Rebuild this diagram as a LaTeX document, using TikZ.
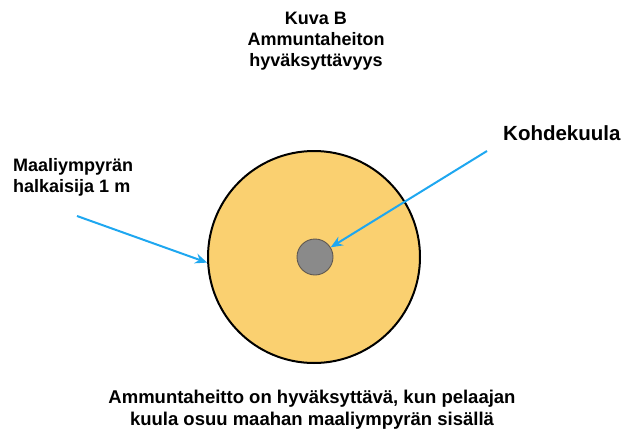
\documentclass[tikz,border=0pt]{standalone}
\usepackage{fontspec}
\setmainfont{Liberation Sans}
\usetikzlibrary{arrows.meta}
\definecolor{disc}{RGB}{250,208,112}
\definecolor{ball}{RGB}{138,138,138}
\definecolor{ballrim}{RGB}{95,88,80}
\definecolor{pointer}{RGB}{30,167,240}
\tikzset{
  lbl/.style={font=\bfseries\fontsize{18}{21}\selectfont, align=center, inner sep=0pt, anchor=base},
  ptr/.style={draw=pointer, line width=2pt, -{Stealth[length=12pt,width=10pt]}}
}
\begin{document}
\begin{tikzpicture}[x=1pt,y=-1pt]
\useasboundingbox (0,0) rectangle (627,434);
\node[draw=black, line width=2pt, fill=disc, circle, minimum size=212pt, inner sep=0pt] (target) at (314,257) {};
\node[draw=ballrim, line width=0.9pt, fill=ball, circle, minimum size=36pt, inner sep=0pt] (shot) at (315,257) {};
\node[lbl] (title) at (316,66) {Kuva B\\Ammuntaheiton\\hyväksyttävyys};
\node[lbl, font=\bfseries\fontsize{20.5}{24}\selectfont, anchor=base west] (kohde) at (503,140) {Kohdekuula};
\node[lbl, align=left, anchor=base west] (maali) at (13,192) {Maaliympyrän\\halkaisija 1 m};
\node[lbl, font=\bfseries\fontsize{18.5}{22}\selectfont] (caption) at (312,425) {Ammuntaheitto on hyväksyttävä, kun pelaajan\\kuula osuu maahan maaliympyrän sisällä};
\coordinate (p1) at (77,216);
\coordinate (p2) at (487,151);
\draw[ptr] (p1) -- (target.183);
\draw[ptr] (p2) -- (shot);
\end{tikzpicture}
\end{document}
